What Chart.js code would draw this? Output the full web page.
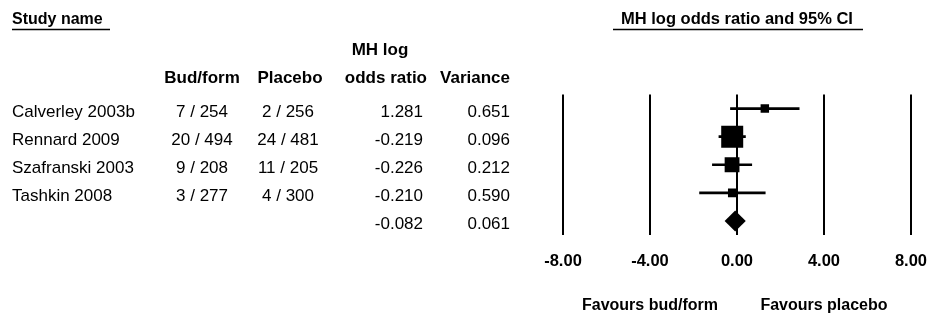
<!DOCTYPE html>
<html>
<head>
<meta charset="utf-8">
<script src="https://cdn.jsdelivr.net/npm/chart.js@4.4.1/dist/chart.umd.min.js"></script>
<style>
  html, body { margin: 0; padding: 0; background: #fff; }
  #wrap { position: relative; width: 930px; height: 316px; }
</style>
</head>
<body>
<div id="wrap"><canvas id="forest"></canvas></div>
<script>
// Table values
const studies = ['Calverley 2003b', 'Rennard 2009', 'Szafranski 2003', 'Tashkin 2008'];
const budForm = ['7 / 254', '20 / 494', '9 / 208', '3 / 277'];
const placebo = ['2 / 256', '24 / 481', '11 / 205', '4 / 300'];
const logOR = [1.281, -0.219, -0.226, -0.210];
const variance = [0.651, 0.096, 0.212, 0.590];
// 95% CI ends as seen in the plot
const ciLower = [-0.30, -0.83, -1.13, -1.72];
const ciUpper = [2.86, 0.39, 0.68, 1.30];
// pooled result
const summaryOR = -0.082;
const summaryVar = 0.061;
const summaryLower = -0.57;
const summaryUpper = 0.40;
const xTicks = [-8, -4, 0, 4, 8];

const FONT = '"Liberation Sans", Arial, sans-serif';
const rows = [...studies, 'Summary'];

// biggest study square is about 22px wide, the rest scale by sqrt(weight)
const weights = variance.map(v => 1 / v);
const maxWeight = Math.max(...weights);

// column anchors of the table
const COL_NAME = 12;
const COL_BUD = 202;
const COL_PLA = 288;
const COL_OR = 423;
const COL_VAR = 510;

// Draws the table on the left, headers and the favours labels
const tablePlugin = {
  id: 'forestTable',
  afterDraw(chart) {
    const ctx = chart.ctx;
    const y = chart.scales.y;
    const x = chart.scales.x;
    ctx.save();
    ctx.fillStyle = '#000';
    ctx.strokeStyle = '#000';
    ctx.textBaseline = 'alphabetic';

    // headers
    ctx.font = 'bold 16px ' + FONT;
    ctx.textAlign = 'left';
    ctx.fillText('Study name', COL_NAME, 24);
    ctx.textAlign = 'center';
    ctx.font = 'bold 16.5px ' + FONT;
    ctx.fillText('MH log odds ratio and 95% CI', x.getPixelForValue(0), 24);

    ctx.font = 'bold 17px ' + FONT;
    ctx.fillText('Bud/form', COL_BUD, 83);
    ctx.fillText('Placebo', 290, 83);
    ctx.fillText('MH log', 380, 55);
    ctx.textAlign = 'right';
    ctx.fillText('odds ratio', 427, 83);
    ctx.fillText('Variance', COL_VAR, 83);

    // underlines
    ctx.lineWidth = 1.5;
    ctx.beginPath();
    ctx.moveTo(12, 29.5); ctx.lineTo(110, 29.5);
    ctx.moveTo(613, 29.5); ctx.lineTo(863, 29.5);
    ctx.stroke();

    // study rows
    ctx.font = '17px ' + FONT;
    studies.forEach((name, i) => {
      const py = y.getPixelForValue(i) + 8;
      ctx.textAlign = 'left';
      ctx.fillText(name, COL_NAME, py);
      ctx.textAlign = 'center';
      ctx.fillText(budForm[i], COL_BUD, py);
      ctx.fillText(placebo[i], COL_PLA, py);
      ctx.textAlign = 'right';
      ctx.fillText(logOR[i].toFixed(3), COL_OR, py);
      ctx.fillText(variance[i].toFixed(3), COL_VAR, py);
    });
    const sy = y.getPixelForValue(studies.length) + 8;
    ctx.fillText(summaryOR.toFixed(3), COL_OR, sy);
    ctx.fillText(summaryVar.toFixed(3), COL_VAR, sy);

    // favours labels under the axis
    ctx.font = 'bold 16px ' + FONT;
    ctx.textAlign = 'center';
    ctx.fillText('Favours bud/form', x.getPixelForValue(-4), 310);
    ctx.fillText('Favours placebo', x.getPixelForValue(4), 310);
    ctx.restore();
  }
};

new Chart(document.getElementById('forest'), {
  data: {
    labels: rows,
    datasets: [
      {
        type: 'scatter',
        order: 0,
        data: [
          ...studies.map((s, i) => ({ x: logOR[i], y: s })),
          { x: summaryOR, y: 'Summary' }
        ],
        backgroundColor: '#000',
        borderWidth: 0,
        pointStyle: ctx => ctx.dataIndex < studies.length ? 'rect' : 'rectRot',
        pointRadius: ctx => {
          const i = ctx.dataIndex;
          if (i < studies.length) {
            const side = 22 * Math.sqrt(weights[i] / maxWeight);
            return side / Math.SQRT2;
          }
          const xs = ctx.chart.scales.x;
          return (xs.getPixelForValue(summaryUpper) - xs.getPixelForValue(summaryLower)) / 2;
        }
      },
      {
        type: 'bar',
        order: 1,
        indexAxis: 'y',
        data: studies.map((s, i) => [ciLower[i], ciUpper[i]]),
        backgroundColor: '#000',
        borderWidth: 0,
        barThickness: 2
      }
    ]
  },
  options: {
    responsive: true,
    maintainAspectRatio: false,
    animation: false,
    events: [],
    layout: { padding: { left: 563, right: 3, top: 94.5, bottom: 41 } },
    plugins: { legend: { display: false }, tooltip: { enabled: false } },
    scales: {
      x: {
        type: 'linear',
        min: -8,
        max: 8,
        afterBuildTicks: scale => { scale.ticks = xTicks.map(v => ({ value: v })); },
        afterFit: scale => { scale.height = 40; },
        border: { display: false },
        // invisible tick marks push the labels down without widening the side padding
        grid: { color: '#000', lineWidth: 2, drawTicks: true, tickLength: 14, tickColor: 'rgba(0,0,0,0)' },
        ticks: {
          padding: 3,
          color: '#000',
          font: { family: FONT, size: 16.5, weight: 'bold' },
          callback: v => v.toFixed(2)
        }
      },
      y: {
        type: 'category',
        labels: rows,
        display: false,
        offset: true
      }
    }
  },
  plugins: [tablePlugin]
});
</script>
</body>
</html>
